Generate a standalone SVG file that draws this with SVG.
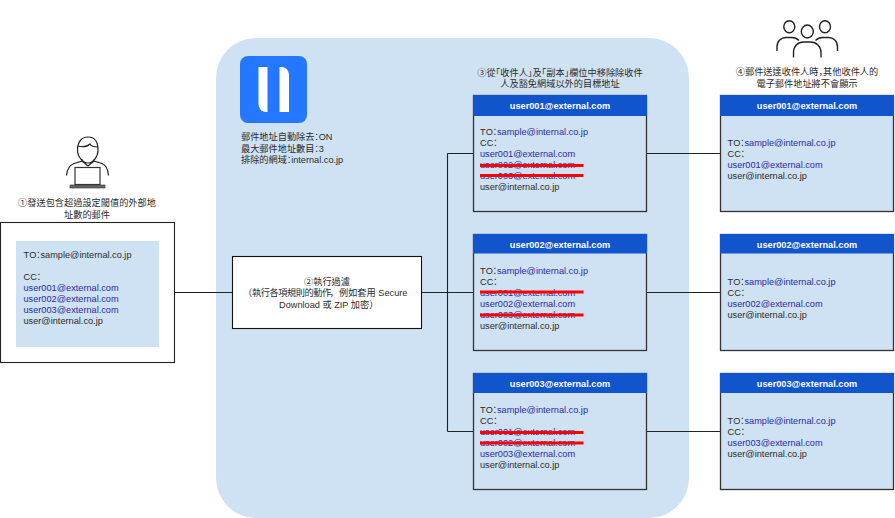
<svg xmlns="http://www.w3.org/2000/svg" width="895" height="518" viewBox="0 0 895 518">
<style>
text{font-family:"Liberation Sans","Noto Sans CJK TC",sans-serif;font-size:9.2px;fill:#2b2b2b}
.c{text-anchor:middle}
.l,tspan.l{fill:#2a2aa8}
.h{fill:#fff;font-weight:bold;text-anchor:middle}
.hd{fill:#1155cc}
.bd{fill:#cfe2f3;stroke:#333;stroke-width:1.3}
.ln{fill:none;stroke:#222;stroke-width:1.1}
.st{stroke:#f00;stroke-width:2.8;fill:none}
.ic{fill:none;stroke:#222;stroke-width:1.2}
.ic2{fill:none;stroke:#222;stroke-width:1.4}
.n{letter-spacing:-2.5px}
.m{letter-spacing:-4.6px}
.sc{font-family:"Liberation Sans","Noto Sans CJK SC",sans-serif}
</style>
<rect id="panel" x="216" y="38" width="473" height="480" rx="40" fill="#cfe2f3"/>
<g id="connectors">
<path class="ln" d="M174 292.500H232M421 292.500H473M447.500 153.500V431.500M447.500 153.500H473M447.500 431.500H473M647 153.500H720M647 292.500H720M647 431.500H720"/>
</g>
<g id="sender">
<path class="ic" d="M77.500 150c0-8 4-13 10.500-13s10 5 10 13c0 7-5 13-10 13s-10.500-6-10.500-13zM78 146c4 1 9 1 12-2 1 2 4 3 7.500 3M82 159v2l-8 2.500c-4 1.500-7 6-7.500 12M94 159v2l8 2.500c4 1.500 6 6 6.500 12M82 161l6 5 6-5"/>
<rect x="75" y="167.500" width="25" height="17" fill="#fff" stroke="#333" stroke-width="1.200"/>
<rect x="70" y="185" width="35" height="3" fill="#666" stroke="#333" stroke-width=".6"/>
<text class="c" x="87" y="206">①發送包含超過設定閾值的外部地</text>
<text class="c" x="87" y="218">址數的郵件</text>
</g>
<g id="source-mail">
<rect x=".5" y="222.500" width="174" height="140" fill="#fff" stroke="#222" stroke-width="1.100"/>
<rect x="16" y="241" width="143" height="106" fill="#cfe2f3"/>
<text x="23.500" y="258">T<tspan class="n">O：</tspan>sample@internal.co.jp</text>
<text x="23.500" y="280">C<tspan class="n">C：</tspan></text>
<text class="l" x="23.500" y="291">user001@external.com</text>
<text class="l" x="23.500" y="302">user002@external.com</text>
<text class="l" x="23.500" y="313">user003@external.com</text>
<text x="23.500" y="324">user@internal.co.jp</text>
</g>
<g id="logo">
<rect x="240" y="56" width="67" height="67" rx="8" fill="#2478ff"/>
<path d="M258.500 67H267.500V112H266C261 112 258.500 108 258.500 103ZM279.500 67H282C286 67 289 71 289 75V112H279.500Z" fill="#fff"/>
</g>
<g id="settings">
<text x="241" y="140">郵件地址自動除<tspan class="n">去：</tspan>ON</text>
<text x="241" y="152">最大郵件地址數<tspan class="n">目：</tspan>3</text>
<text x="241" y="163">排除的網<tspan class="n">域：</tspan>internal.co.jp</text>
</g>
<g id="filter">
<rect x="232.500" y="256.500" width="189" height="72" fill="#fff" stroke="#111" stroke-width="1.100"/>
<text class="c" x="327" y="284.500">②執行過濾</text>
<text x="243" y="296">（<tspan x="252" letter-spacing="-.45">執行各項規則的動作</tspan><tspan class="sc" x="329.500">，</tspan><tspan x="339">例如套用 Secure</tspan></text>
<text x="279" y="308">Download 或 ZIP 加密）</text>
</g>
<g id="note3">
<text class="c" x="560" y="76">③<tspan class="m">從</tspan>「收件<tspan>人</tspan><tspan class="m">」</tspan><tspan class="m">及</tspan>「副<tspan>本</tspan><tspan class="m">」</tspan>欄位中移除除收件</text>
<text class="c" x="560" y="87">人及豁免網域以外的目標地址</text>
</g>
<g id="mail-1">
<rect class="bd" x="473.500" y="95.500" width="173" height="116"/>
<rect class="hd" x="473" y="95" width="174" height="21"/>
<text class="h" x="560" y="109">user001@external.com</text>
<text x="480" y="135">T<tspan class="n">O：</tspan><tspan class="l">sample@internal.co.jp</tspan></text>
<text x="480" y="146">C<tspan class="n">C：</tspan></text>
<text class="l" x="480" y="157">user001@external.com</text>
<text class="l" x="480" y="168">user002@external.com</text>
<text class="l" x="480" y="179">user003@external.com</text>
<text x="480" y="190">user@internal.co.jp</text>
<path class="st" d="M480 165.500H583.500M480 175.500H583.500"/>
</g>
<g id="mail-2">
<rect class="bd" x="473.500" y="234.500" width="173" height="116"/>
<rect class="hd" x="473" y="234" width="174" height="19.500"/>
<text class="h" x="560" y="248">user002@external.com</text>
<text x="480" y="274">T<tspan class="n">O：</tspan><tspan class="l">sample@internal.co.jp</tspan></text>
<text x="480" y="285">C<tspan class="n">C：</tspan></text>
<text class="l" x="480" y="296">user001@external.com</text>
<text class="l" x="480" y="307">user002@external.com</text>
<text class="l" x="480" y="318">user003@external.com</text>
<text x="480" y="329">user@internal.co.jp</text>
<path class="st" d="M480 292H583.500M480 315H583.500"/>
</g>
<g id="mail-3">
<rect class="bd" x="473.500" y="373.500" width="173" height="116"/>
<rect class="hd" x="473" y="373" width="174" height="20"/>
<text class="h" x="560" y="387">user003@external.com</text>
<text x="480" y="413">T<tspan class="n">O：</tspan><tspan class="l">sample@internal.co.jp</tspan></text>
<text x="480" y="424">C<tspan class="n">C：</tspan></text>
<text class="l" x="480" y="435">user001@external.com</text>
<text class="l" x="480" y="446">user002@external.com</text>
<text class="l" x="480" y="457">user003@external.com</text>
<text x="480" y="468">user@internal.co.jp</text>
<path class="st" d="M480 432.500H583.500M480 443H583.500"/>
</g>
<g id="recipients">
<ellipse class="ic2" cx="789.300" cy="26.700" rx="5.500" ry="6"/>
<ellipse class="ic2" cx="825" cy="26.700" rx="5.500" ry="6"/>
<ellipse class="ic2" cx="807.300" cy="31.500" rx="6" ry="6.500"/>
<path class="ic2" d="M777 51v-4c0-6 4-9.500 9-9.500h6c3 0 5 1 7 3M837.500 51v-4c0-6-4-9.500-9-9.500h-6c-3 0-5 1-7 3M793.500 57.500v-5c0-6 4-10.500 10-10.500h7c6 0 10.500 4.500 10.500 10.500v5"/>
<text class="c" x="807" y="75">④郵件送達收件人時<tspan class="sc m">，</tspan>其他收件人的</text>
<text class="c" x="807" y="87">電子郵件地址將不會顯示</text>
</g>
<g id="result-1">
<rect class="bd" x="720.500" y="95.500" width="173" height="116"/>
<rect class="hd" x="720" y="95" width="174" height="21"/>
<text class="h" x="807" y="109">user001@external.com</text>
<text x="727.500" y="146">T<tspan class="n">O：</tspan><tspan class="l">sample@internal.co.jp</tspan></text>
<text x="727.500" y="157">C<tspan class="n">C：</tspan></text>
<text class="l" x="727.500" y="168">user001@external.com</text>
<text x="727.500" y="179">user@internal.co.jp</text>
</g>
<g id="result-2">
<rect class="bd" x="720.500" y="234.500" width="173" height="116"/>
<rect class="hd" x="720" y="234" width="174" height="19.500"/>
<text class="h" x="807" y="248">user002@external.com</text>
<text x="727.500" y="285">T<tspan class="n">O：</tspan><tspan class="l">sample@internal.co.jp</tspan></text>
<text x="727.500" y="296">C<tspan class="n">C：</tspan></text>
<text class="l" x="727.500" y="307">user002@external.com</text>
<text x="727.500" y="318">user@internal.co.jp</text>
</g>
<g id="result-3">
<rect class="bd" x="720.500" y="373.500" width="173" height="116"/>
<rect class="hd" x="720" y="373" width="174" height="20"/>
<text class="h" x="807" y="387">user003@external.com</text>
<text x="727.500" y="424">T<tspan class="n">O：</tspan><tspan class="l">sample@internal.co.jp</tspan></text>
<text x="727.500" y="435">C<tspan class="n">C：</tspan></text>
<text class="l" x="727.500" y="446">user003@external.com</text>
<text x="727.500" y="457">user@internal.co.jp</text>
</g>
</svg>
